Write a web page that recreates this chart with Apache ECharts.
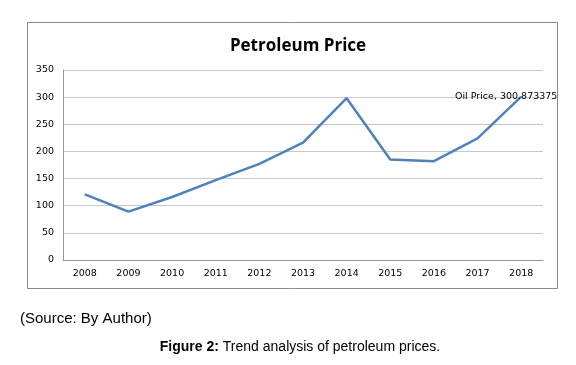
<!DOCTYPE html>
<html>
<head>
<meta charset="utf-8">
<script src="https://cdn.jsdelivr.net/npm/echarts@6/dist/echarts.min.js"></script>
<style>
  html, body { margin: 0; padding: 0; background: #fff; }
  #chart { width: 576px; height: 365px; }
</style>
</head>
<body>
<div id="chart"></div>
<script>
const years = ['2008', '2009', '2010', '2011', '2012', '2013', '2014', '2015', '2016', '2017', '2018'];
const oilPrice = [121, 89, 116, 147, 177, 216, 298, 185, 182, 224, 300.873375];
const yTicks = { min: 0, max: 350, interval: 50 };

const chart = echarts.init(document.getElementById('chart'));
const lastIdx = oilPrice.length - 1;

chart.setOption({
  animation: false,
  backgroundColor: '#fff',
  title: [
    {
      text: 'Petroleum Price',
      left: 293, top: 33, textAlign: 'center',
      textStyle: { fontFamily: 'Open Sans', fontWeight: 'bold', fontSize: 17, color: '#000' }
    },
    {
      text: '(Source: By Author)',
      left: 15, top: 306,
      textStyle: { fontFamily: 'Liberation Sans', fontWeight: 'normal', fontSize: 15, color: '#000' }
    },
    {
      text: '{b|Figure 2:} Trend analysis of petroleum prices.',
      left: 295, top: 335, textAlign: 'center',
      textStyle: {
        fontFamily: 'Liberation Sans', fontWeight: 'normal', fontSize: 14, color: '#000',
        rich: { b: { fontFamily: 'Liberation Sans', fontWeight: 'bold', fontSize: 14, color: '#000' } }
      }
    }
  ],
  graphic: [{
    type: 'rect',
    shape: { x: 27.5, y: 22.5, width: 530, height: 266 },
    style: { fill: 'none', stroke: '#8c8c8c', lineWidth: 1 },
    silent: true
  }],
  grid: { left: 63, right: 33, top: 70, bottom: 105 },
  xAxis: {
    type: 'category',
    data: years,
    boundaryGap: true,
    axisLine: { lineStyle: { color: '#9a9a9a' } },
    axisTick: { show: false },
    axisLabel: { color: '#000', fontFamily: 'DejaVu Sans', fontSize: 9.5, margin: 9 }
  },
  yAxis: {
    type: 'value',
    min: yTicks.min, max: yTicks.max, interval: yTicks.interval,
    axisLine: { show: true, lineStyle: { color: '#9a9a9a' } },
    axisTick: { show: false },
    axisLabel: { color: '#000', fontFamily: 'DejaVu Sans', fontSize: 9.5, margin: 9 },
    splitLine: { lineStyle: { color: '#c8c8c8' } }
  },
  series: [{
    name: 'Oil Price',
    type: 'line',
    data: oilPrice.map((v, i) => i === lastIdx ? {
      value: v,
      symbol: 'circle',
      symbolSize: 1,
      label: {
        show: true, position: 'inside', offset: [-15, 0],
        formatter: p => p.seriesName + ', ' + p.value,
        color: '#000', fontFamily: 'DejaVu Sans', fontSize: 9.5
      }
    } : v),
    symbol: 'none',
    showAllSymbol: true,
    itemStyle: { color: '#4f81bd' },
    lineStyle: { color: '#4f81bd', width: 2.5 }
  }]
});
</script>
</body>
</html>
